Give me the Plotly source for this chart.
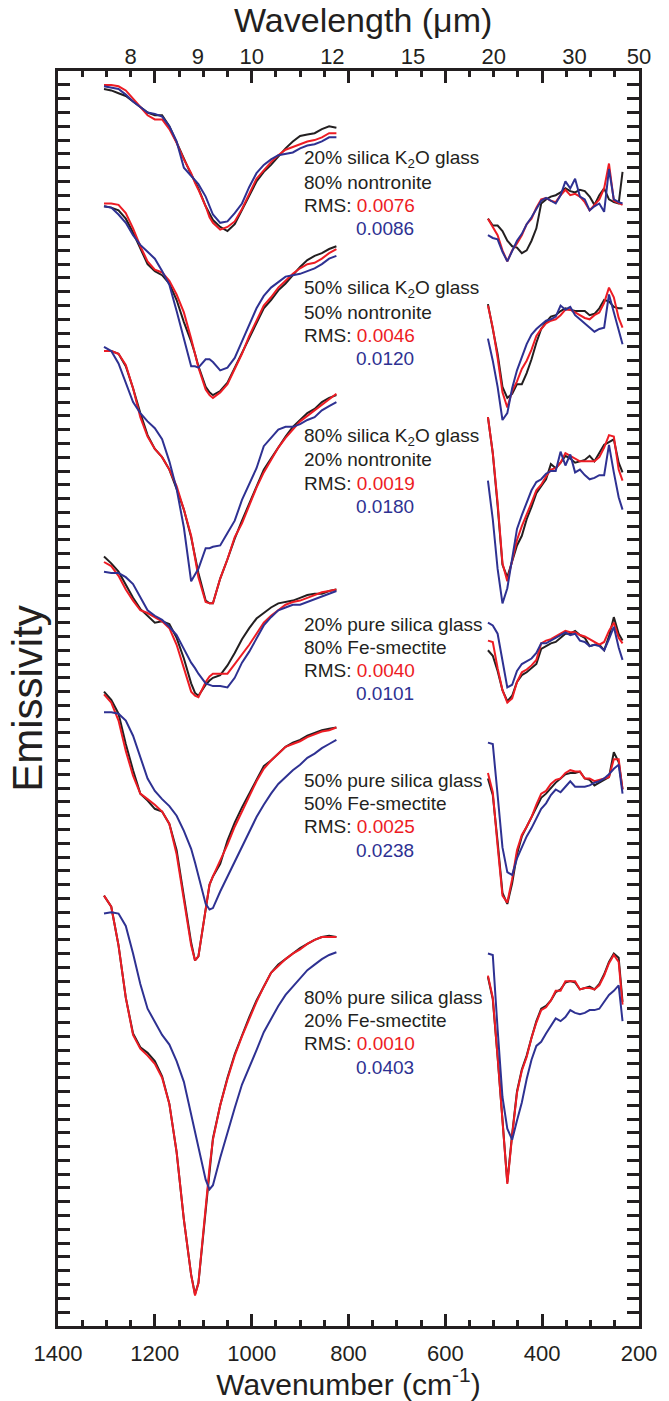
import plotly.graph_objects as go

# ---------------------------------------------------------------------------
# Wavenumber grids (cm-1) for the two measured spectral windows
# ---------------------------------------------------------------------------
WN_MIR = [1305, 1290, 1275, 1260, 1245, 1230, 1215, 1200, 1185, 1170, 1155, 1140,
          1125, 1117, 1110, 1095, 1087, 1080, 1065, 1050, 1035, 1020, 1005, 990,
          975, 960, 945, 930, 915, 900, 885, 870, 855, 840, 825]
WN_FIR = [512, 502, 492, 482, 472, 462, 452, 442, 432, 422, 412, 402, 392, 382,
          372, 362, 352, 342, 332, 322, 312, 302, 292, 282, 272, 262, 252, 242, 234]

# ---------------------------------------------------------------------------
# Emissivity (offset for clarity): measured mixture, fit A (red), fit B (blue)
# ---------------------------------------------------------------------------
# 20% silica K2O glass / 80% nontronite
K20_MEAS_MIR = [0.997, 0.996, 0.994, 0.992, 0.988, 0.984, 0.980, 0.978, 0.978, 0.970, 0.958, 0.946,
                0.935, 0.930, 0.925, 0.912, 0.906, 0.902, 0.897, 0.894, 0.899, 0.909, 0.919, 0.930,
                0.937, 0.942, 0.948, 0.954, 0.959, 0.963, 0.964, 0.965, 0.968, 0.970, 0.969]
K20_FITA_MIR = [1.000, 1.000, 0.999, 0.996, 0.990, 0.984, 0.978, 0.975, 0.975, 0.968, 0.958, 0.946,
                0.936, 0.929, 0.924, 0.912, 0.904, 0.900, 0.895, 0.897, 0.901, 0.910, 0.921, 0.932,
                0.938, 0.944, 0.949, 0.953, 0.955, 0.957, 0.959, 0.960, 0.962, 0.965, 0.965]
K20_FITB_MIR = [0.999, 0.998, 0.997, 0.993, 0.988, 0.984, 0.980, 0.979, 0.977, 0.970, 0.959, 0.940,
                0.934, 0.931, 0.928, 0.919, 0.912, 0.906, 0.900, 0.901, 0.907, 0.914, 0.926, 0.936,
                0.942, 0.946, 0.949, 0.950, 0.951, 0.954, 0.956, 0.957, 0.959, 0.962, 0.962]
K20_MEAS_FIR = [0.903, 0.898, 0.898, 0.894, 0.887, 0.883, 0.882, 0.878, 0.880, 0.887, 0.896, 0.914,
                0.917, 0.919, 0.920, 0.922, 0.925, 0.923, 0.922, 0.924, 0.923, 0.919, 0.913, 0.920,
                0.925, 0.917, 0.915, 0.914, 0.937]
K20_FITA_FIR = [0.903, 0.897, 0.891, 0.880, 0.872, 0.880, 0.885, 0.891, 0.899, 0.903, 0.911, 0.917,
                0.918, 0.916, 0.915, 0.920, 0.924, 0.920, 0.921, 0.919, 0.915, 0.909, 0.913, 0.917,
                0.925, 0.943, 0.916, 0.914, 0.913]
K20_FITB_FIR = [0.891, 0.889, 0.888, 0.879, 0.872, 0.879, 0.887, 0.892, 0.899, 0.904, 0.910, 0.916,
                0.918, 0.916, 0.914, 0.920, 0.930, 0.925, 0.932, 0.919, 0.917, 0.909, 0.912, 0.914,
                0.908, 0.939, 0.917, 0.915, 0.914]

# 50% silica K2O glass / 50% nontronite
K50_MEAS_MIR = [0.912, 0.911, 0.909, 0.903, 0.893, 0.882, 0.870, 0.865, 0.862, 0.856, 0.844, 0.828,
                0.814, 0.805, 0.796, 0.781, 0.777, 0.775, 0.778, 0.784, 0.795, 0.806, 0.816, 0.827,
                0.838, 0.844, 0.851, 0.856, 0.862, 0.868, 0.873, 0.876, 0.878, 0.881, 0.883]
K50_FITA_MIR = [0.914, 0.914, 0.913, 0.907, 0.896, 0.883, 0.872, 0.866, 0.864, 0.858, 0.848, 0.835,
                0.816, 0.805, 0.795, 0.779, 0.775, 0.773, 0.777, 0.783, 0.794, 0.805, 0.818, 0.829,
                0.840, 0.846, 0.853, 0.858, 0.863, 0.867, 0.870, 0.871, 0.874, 0.878, 0.881]
K50_FITB_MIR = [0.912, 0.911, 0.906, 0.900, 0.891, 0.884, 0.879, 0.874, 0.865, 0.855, 0.836, 0.816,
                0.796, 0.796, 0.795, 0.801, 0.801, 0.799, 0.793, 0.795, 0.802, 0.814, 0.826, 0.838,
                0.847, 0.853, 0.857, 0.861, 0.862, 0.863, 0.865, 0.867, 0.870, 0.874, 0.876]
K50_MEAS_FIR = [0.841, 0.824, 0.805, 0.781, 0.773, 0.776, 0.783, 0.783, 0.791, 0.801, 0.813, 0.823,
                0.828, 0.832, 0.833, 0.836, 0.838, 0.837, 0.836, 0.836, 0.836, 0.833, 0.834, 0.838,
                0.844, 0.843, 0.839, 0.838, 0.838]
K50_FITA_FIR = [0.840, 0.824, 0.802, 0.777, 0.766, 0.778, 0.785, 0.794, 0.800, 0.808, 0.818, 0.823,
                0.827, 0.829, 0.830, 0.833, 0.837, 0.837, 0.835, 0.833, 0.831, 0.830, 0.833, 0.835,
                0.842, 0.853, 0.846, 0.831, 0.824]
K50_FITB_FIR = [0.816, 0.800, 0.781, 0.757, 0.762, 0.780, 0.793, 0.803, 0.812, 0.819, 0.823, 0.826,
                0.829, 0.830, 0.832, 0.840, 0.837, 0.839, 0.833, 0.830, 0.827, 0.824, 0.821, 0.823,
                0.824, 0.848, 0.835, 0.821, 0.812]

# 80% silica K2O glass / 20% nontronite
K80_MEAS_MIR = [0.807, 0.807, 0.805, 0.796, 0.780, 0.762, 0.746, 0.736, 0.730, 0.721, 0.707, 0.692,
                0.672, 0.658, 0.646, 0.626, 0.624, 0.624, 0.642, 0.656, 0.671, 0.684, 0.696, 0.708,
                0.721, 0.729, 0.737, 0.745, 0.752, 0.757, 0.762, 0.765, 0.770, 0.773, 0.775]
K80_FITA_MIR = [0.807, 0.807, 0.805, 0.797, 0.780, 0.759, 0.745, 0.736, 0.730, 0.721, 0.709, 0.692,
                0.673, 0.657, 0.643, 0.625, 0.624, 0.624, 0.642, 0.656, 0.672, 0.682, 0.695, 0.708,
                0.719, 0.728, 0.737, 0.744, 0.750, 0.756, 0.760, 0.764, 0.768, 0.772, 0.776]
K80_FITB_MIR = [0.810, 0.807, 0.798, 0.784, 0.770, 0.762, 0.756, 0.751, 0.743, 0.727, 0.707, 0.679,
                0.640, 0.645, 0.649, 0.664, 0.664, 0.665, 0.666, 0.675, 0.684, 0.699, 0.711, 0.722,
                0.738, 0.744, 0.750, 0.752, 0.752, 0.754, 0.757, 0.759, 0.764, 0.767, 0.770]
K80_MEAS_FIR = [0.759, 0.733, 0.695, 0.652, 0.643, 0.654, 0.666, 0.673, 0.685, 0.694, 0.704, 0.709,
                0.714, 0.725, 0.722, 0.726, 0.731, 0.729, 0.726, 0.727, 0.728, 0.731, 0.727, 0.733,
                0.739, 0.741, 0.743, 0.726, 0.719]
K80_FITA_FIR = [0.759, 0.733, 0.697, 0.653, 0.640, 0.656, 0.670, 0.680, 0.688, 0.697, 0.706, 0.710,
                0.716, 0.721, 0.722, 0.726, 0.733, 0.731, 0.729, 0.727, 0.727, 0.727, 0.727, 0.730,
                0.737, 0.746, 0.745, 0.721, 0.713]
K80_FITB_FIR = [0.713, 0.685, 0.649, 0.624, 0.635, 0.656, 0.678, 0.688, 0.697, 0.706, 0.712, 0.714,
                0.718, 0.720, 0.720, 0.734, 0.724, 0.732, 0.719, 0.721, 0.717, 0.714, 0.715, 0.717,
                0.717, 0.739, 0.719, 0.701, 0.692]

# 20% pure silica glass / 80% Fe-smectite
P20_MEAS_MIR = [0.658, 0.653, 0.647, 0.637, 0.628, 0.620, 0.615, 0.610, 0.611, 0.609, 0.599, 0.584,
                0.566, 0.559, 0.557, 0.565, 0.568, 0.570, 0.572, 0.579, 0.588, 0.598, 0.606, 0.613,
                0.617, 0.621, 0.624, 0.625, 0.626, 0.628, 0.630, 0.631, 0.631, 0.633, 0.634]
P20_FITA_MIR = [0.654, 0.651, 0.644, 0.634, 0.626, 0.619, 0.617, 0.614, 0.611, 0.606, 0.594, 0.577,
                0.560, 0.557, 0.556, 0.567, 0.571, 0.573, 0.573, 0.573, 0.580, 0.587, 0.594, 0.602,
                0.610, 0.615, 0.619, 0.623, 0.625, 0.626, 0.628, 0.630, 0.632, 0.633, 0.634]
P20_FITB_MIR = [0.647, 0.646, 0.646, 0.643, 0.638, 0.628, 0.619, 0.615, 0.612, 0.607, 0.601, 0.591,
                0.581, 0.577, 0.573, 0.566, 0.565, 0.564, 0.564, 0.563, 0.570, 0.581, 0.589, 0.599,
                0.608, 0.614, 0.619, 0.621, 0.623, 0.623, 0.625, 0.627, 0.629, 0.631, 0.633]
P20_MEAS_FIR = [0.590, 0.586, 0.575, 0.561, 0.553, 0.557, 0.567, 0.572, 0.574, 0.577, 0.580, 0.591,
                0.593, 0.595, 0.596, 0.599, 0.602, 0.602, 0.604, 0.601, 0.599, 0.593, 0.594, 0.594,
                0.590, 0.600, 0.614, 0.602, 0.597]
P20_FITA_FIR = [0.597, 0.596, 0.577, 0.561, 0.552, 0.555, 0.567, 0.574, 0.576, 0.579, 0.583, 0.595,
                0.597, 0.598, 0.600, 0.602, 0.604, 0.603, 0.603, 0.601, 0.600, 0.598, 0.596, 0.594,
                0.596, 0.604, 0.610, 0.599, 0.595]
P20_FITB_FIR = [0.610, 0.608, 0.602, 0.583, 0.563, 0.565, 0.575, 0.580, 0.582, 0.584, 0.588, 0.595,
                0.595, 0.597, 0.599, 0.601, 0.603, 0.601, 0.602, 0.597, 0.596, 0.593, 0.594, 0.593,
                0.590, 0.598, 0.607, 0.592, 0.583]

# 50% pure silica glass / 50% Fe-smectite
P50_MEAS_MIR = [0.560, 0.554, 0.544, 0.522, 0.503, 0.486, 0.481, 0.475, 0.473, 0.464, 0.445, 0.412,
                0.378, 0.365, 0.368, 0.402, 0.420, 0.426, 0.435, 0.452, 0.465, 0.476, 0.486, 0.497,
                0.506, 0.510, 0.515, 0.520, 0.523, 0.525, 0.528, 0.530, 0.532, 0.533, 0.534]
P50_FITA_MIR = [0.558, 0.552, 0.539, 0.517, 0.499, 0.486, 0.482, 0.478, 0.473, 0.464, 0.442, 0.409,
                0.376, 0.365, 0.368, 0.402, 0.420, 0.426, 0.437, 0.449, 0.462, 0.473, 0.484, 0.495,
                0.504, 0.510, 0.515, 0.520, 0.522, 0.524, 0.527, 0.529, 0.531, 0.532, 0.534]
P50_FITB_MIR = [0.545, 0.545, 0.544, 0.539, 0.528, 0.512, 0.497, 0.488, 0.482, 0.477, 0.470, 0.459,
                0.446, 0.436, 0.426, 0.406, 0.402, 0.403, 0.415, 0.426, 0.437, 0.447, 0.458, 0.469,
                0.478, 0.486, 0.493, 0.498, 0.503, 0.507, 0.512, 0.515, 0.519, 0.522, 0.525]
P50_MEAS_FIR = [0.497, 0.485, 0.451, 0.414, 0.406, 0.421, 0.442, 0.455, 0.462, 0.469, 0.476, 0.483,
                0.486, 0.490, 0.494, 0.497, 0.500, 0.501, 0.501, 0.502, 0.497, 0.496, 0.492, 0.494,
                0.496, 0.498, 0.516, 0.509, 0.489]
P50_FITA_FIR = [0.501, 0.487, 0.448, 0.412, 0.407, 0.424, 0.445, 0.456, 0.462, 0.469, 0.478, 0.486,
                0.488, 0.493, 0.496, 0.497, 0.501, 0.503, 0.502, 0.502, 0.497, 0.497, 0.495, 0.496,
                0.497, 0.498, 0.511, 0.511, 0.489]
P50_FITB_FIR = [0.523, 0.522, 0.485, 0.447, 0.429, 0.427, 0.439, 0.447, 0.455, 0.461, 0.468, 0.475,
                0.479, 0.485, 0.489, 0.487, 0.491, 0.495, 0.491, 0.491, 0.491, 0.492, 0.494, 0.495,
                0.497, 0.500, 0.504, 0.507, 0.486]

# 80% pure silica glass / 20% Fe-smectite
P80_MEAS_MIR = [0.412, 0.404, 0.376, 0.338, 0.312, 0.302, 0.298, 0.292, 0.281, 0.261, 0.226, 0.177,
                0.137, 0.123, 0.131, 0.186, 0.215, 0.236, 0.260, 0.280, 0.297, 0.311, 0.324, 0.336,
                0.346, 0.356, 0.362, 0.366, 0.370, 0.374, 0.377, 0.380, 0.382, 0.383, 0.382]
P80_FITA_MIR = [0.412, 0.404, 0.376, 0.338, 0.311, 0.301, 0.296, 0.290, 0.280, 0.261, 0.226, 0.177,
                0.137, 0.122, 0.131, 0.186, 0.215, 0.235, 0.260, 0.279, 0.296, 0.310, 0.323, 0.335,
                0.346, 0.356, 0.361, 0.366, 0.370, 0.373, 0.377, 0.380, 0.382, 0.382, 0.382]
P80_FITB_MIR = [0.399, 0.400, 0.399, 0.390, 0.370, 0.348, 0.330, 0.320, 0.311, 0.304, 0.292, 0.277,
                0.254, 0.241, 0.229, 0.206, 0.199, 0.202, 0.222, 0.241, 0.258, 0.275, 0.287, 0.300,
                0.313, 0.323, 0.332, 0.340, 0.346, 0.352, 0.358, 0.362, 0.366, 0.369, 0.371]
P80_MEAS_FIR = [0.353, 0.337, 0.295, 0.249, 0.204, 0.239, 0.270, 0.286, 0.296, 0.309, 0.321, 0.330,
                0.332, 0.336, 0.342, 0.344, 0.349, 0.350, 0.349, 0.344, 0.345, 0.346, 0.344, 0.348,
                0.355, 0.364, 0.370, 0.367, 0.335]
P80_FITA_FIR = [0.354, 0.338, 0.295, 0.248, 0.203, 0.238, 0.269, 0.285, 0.295, 0.309, 0.320, 0.329,
                0.331, 0.336, 0.343, 0.343, 0.350, 0.350, 0.350, 0.344, 0.345, 0.345, 0.344, 0.347,
                0.354, 0.363, 0.369, 0.364, 0.333]
P80_FITB_FIR = [0.370, 0.369, 0.315, 0.266, 0.243, 0.235, 0.249, 0.262, 0.279, 0.293, 0.303, 0.306,
                0.312, 0.318, 0.323, 0.321, 0.324, 0.329, 0.327, 0.326, 0.327, 0.329, 0.329, 0.330,
                0.335, 0.340, 0.343, 0.347, 0.321]

# Mixture descriptions and RMS errors of the two fits
MIX_GLASS = ["20% silica K<sub>2</sub>O glass", "50% silica K<sub>2</sub>O glass",
             "80% silica K<sub>2</sub>O glass", "20% pure silica glass",
             "50% pure silica glass", "80% pure silica glass"]
MIX_CLAY = ["80% nontronite", "50% nontronite", "20% nontronite",
            "80% Fe-smectite", "50% Fe-smectite", "20% Fe-smectite"]
RMS_A = ["0.0076", "0.0046", "0.0019", "0.0040", "0.0025", "0.0010"]
RMS_B = ["0.0086", "0.0120", "0.0180", "0.0101", "0.0238", "0.0403"]

# Top axis: wavelength (um) tick labels
WL_TICKS = [8, 9, 10, 12, 15, 20, 30, 50]

# ---------------------------------------------------------------------------
INK = "#231f20"
RED = "#ed1c24"
BLUE = "#2e3192"
FONT = "Liberation Sans, Arial, Helvetica, sans-serif"

SPECTRA = [
    (K20_MEAS_MIR, K20_FITA_MIR, K20_FITB_MIR, K20_MEAS_FIR, K20_FITA_FIR, K20_FITB_FIR),
    (K50_MEAS_MIR, K50_FITA_MIR, K50_FITB_MIR, K50_MEAS_FIR, K50_FITA_FIR, K50_FITB_FIR),
    (K80_MEAS_MIR, K80_FITA_MIR, K80_FITB_MIR, K80_MEAS_FIR, K80_FITA_FIR, K80_FITB_FIR),
    (P20_MEAS_MIR, P20_FITA_MIR, P20_FITB_MIR, P20_MEAS_FIR, P20_FITA_FIR, P20_FITB_FIR),
    (P50_MEAS_MIR, P50_FITA_MIR, P50_FITB_MIR, P50_MEAS_FIR, P50_FITA_FIR, P50_FITB_FIR),
    (P80_MEAS_MIR, P80_FITA_MIR, P80_FITB_MIR, P80_MEAS_FIR, P80_FITA_FIR, P80_FITB_FIR),
]

fig = go.Figure()
for gi, (meas_m, fa_m, fb_m, meas_f, fa_f, fb_f) in enumerate(SPECTRA):
    for si, (wn, ys, color) in enumerate([(WN_MIR, meas_m, INK), (WN_MIR, fa_m, RED),
                                          (WN_MIR, fb_m, BLUE), (WN_FIR, meas_f, INK),
                                          (WN_FIR, fa_f, RED), (WN_FIR, fb_f, BLUE)]):
        # the far-IR windows are drawn against the (identically scaled) top
        # axis so that the wavelength axis is rendered
        xa = "x2" if si >= 3 else "x"
        fig.add_trace(go.Scatter(x=wn, y=ys, mode="lines", xaxis=xa, yaxis="y",
                                 line=dict(color=color, width=2),
                                 hoverinfo="skip", showlegend=False))

# Text blocks beside each set of spectra (emissivity of first line, line step)
LABEL_TOP = [0.9460, 0.8518, 0.7448, 0.6090, 0.4955, 0.3381]
LINE_STEP = 0.0168
LABEL_X = 896
RMS_X = 788
annotations = []
for i in range(6):
    y0 = LABEL_TOP[i]
    lines = [
        (LABEL_X, y0, MIX_GLASS[i]),
        (LABEL_X, y0 - LINE_STEP, MIX_CLAY[i]),
        (LABEL_X, y0 - 2 * LINE_STEP,
         f"RMS: <span style='color:{RED}'>{RMS_A[i]}</span>"),
        (RMS_X, y0 - 3 * LINE_STEP, f"<span style='color:{BLUE}'>{RMS_B[i]}</span>"),
    ]
    for x, y, txt in lines:
        annotations.append(dict(x=x, y=y, xref="x", yref="y", text=txt,
                                showarrow=False, xanchor="left", yanchor="middle",
                                font=dict(size=19, color=INK, family=FONT)))

# Top (wavelength) axis title
annotations.append(dict(x=0.525, y=1.0403, xref="paper", yref="paper",
                        text="Wavelength (μm)", showarrow=False,
                        xanchor="center", yanchor="middle",
                        font=dict(size=34, color=INK, family=FONT)))

fig.update_layout(
    width=669, height=1401,
    margin=dict(l=58, r=23, t=71, b=63),
    paper_bgcolor="white", plot_bgcolor="white",
    showlegend=False,
    font=dict(family=FONT, color=INK),
    annotations=annotations,
    xaxis=dict(
        range=[1400, 200], showgrid=False, zeroline=False,
        showline=True, linewidth=3, linecolor=INK, mirror="allticks",
        ticks="inside", ticklen=12, tickwidth=2.5, tickcolor=INK,
        tick0=0, dtick=200, tickfont=dict(size=22, color=INK),
        ticklabelstandoff=6,
        minor=dict(ticks="inside", ticklen=6, tickwidth=2.5, tickcolor=INK,
                   tick0=0, dtick=50, showgrid=False),
        title=dict(text="Wavenumber (cm<sup>-1</sup>)", font=dict(size=30, color=INK),
                   standoff=2),
    ),
    xaxis2=dict(
        overlaying="x", side="top", range=[1400, 200], anchor="y",
        showgrid=False, zeroline=False, showline=False, ticks="",
        tickvals=[10000.0 / w for w in WL_TICKS], ticktext=[str(w) for w in WL_TICKS],
        tickfont=dict(size=22, color=INK), ticklabelstandoff=2,
    ),
    yaxis=dict(
        range=[0.0999, 1.0101], showgrid=False, zeroline=False,
        showline=True, linewidth=3, linecolor=INK, mirror="allticks",
        ticks="inside", ticklen=12, tickwidth=2.5, tickcolor=INK,
        tick0=0, dtick=0.05, showticklabels=False,
        minor=dict(ticks="inside", ticklen=7, tickwidth=2.5, tickcolor=INK,
                   tick0=0, dtick=0.01, showgrid=False),
        title=dict(text="Emissivity", font=dict(size=42, color=INK), standoff=0),
    ),
)

fig.write_html("out.html")
